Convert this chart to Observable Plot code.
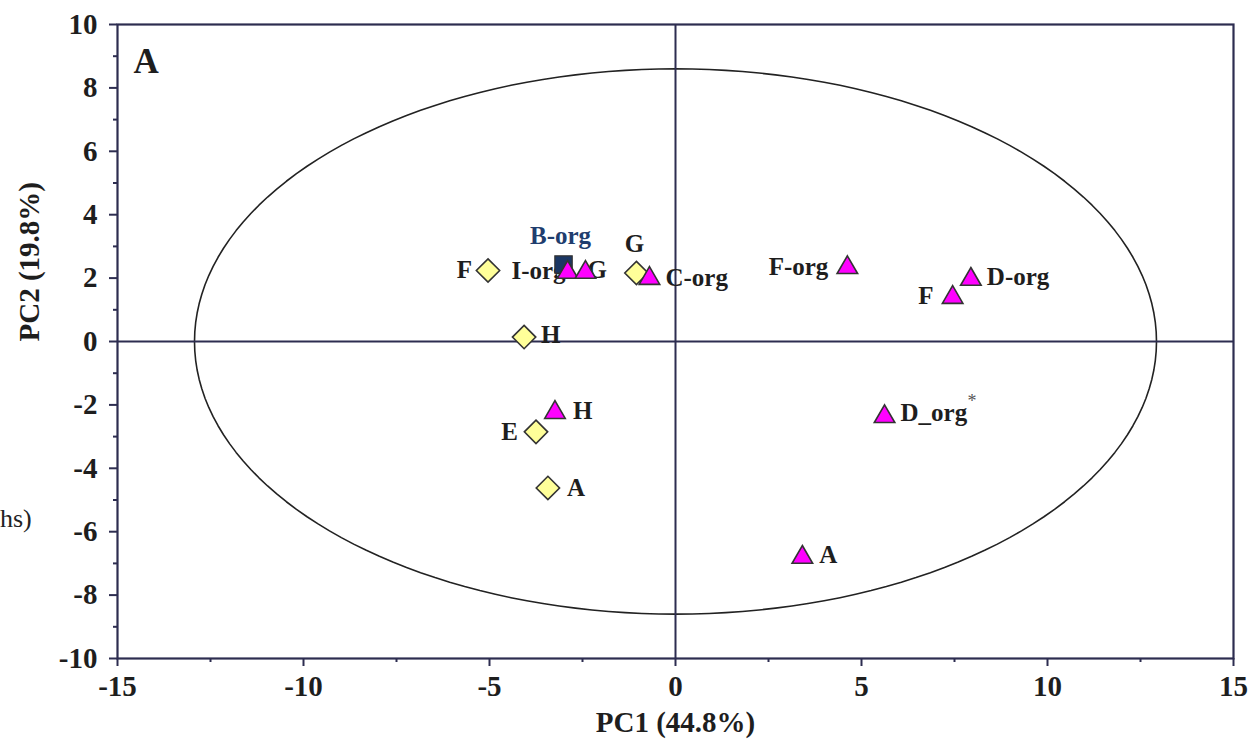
<!DOCTYPE html>
<html><head><meta charset="utf-8">
<script src="https://cdn.jsdelivr.net/npm/d3@7"></script>
<script src="https://cdn.jsdelivr.net/npm/@observablehq/plot@0.6"></script>
<style>
body{margin:0;background:#fff;}
#wrap{position:relative;width:1250px;height:745px;overflow:hidden;background:#fff;}
#stray{position:absolute;left:0px;top:504px;font:26px "Liberation Serif",serif;color:#222;}
svg text{font-family:"Liberation Serif","Times New Roman",serif;}
</style></head><body><div id="wrap"><div id="chart"></div><div id="stray">hs)</div></div>
<script>
// ---- data ----
const diamondLabels = ["F", "H", "E", "A", "G"];
const diamondPC1 = [-5.04, -4.07, -3.75, -3.43, -1.05];
const diamondPC2 = [2.24, 0.14, -2.85, -4.62, 2.16];

const squareLabels = ["B-org"];
const squarePC1 = [-3.01];
const squarePC2 = [2.43];

const triangleLabels = ["I-org", "G", "C-org", "F-org", "D-org", "F", "D_org", "H", "A"];
const trianglePC1 = [-2.90, -2.42, -0.70, 4.62, 7.94, 7.45, 5.62, -3.24, 3.41];
const trianglePC2 = [2.18, 2.18, 1.99, 2.33, 1.96, 1.39, -2.37, -2.24, -6.81];

const xTicks = [-15, -10, -5, 0, 5, 10, 15];
const xMinorTicks = [-12.5, -7.5, -2.5, 2.5, 7.5, 12.5];
const yTicks = [-10, -8, -6, -4, -2, 0, 2, 4, 6, 8, 10];
const yMinorTicks = [-9, -7, -5, -3, -1, 1, 3, 5, 7, 9];

const ellipseRadiusPC1 = 12.93;
const ellipseRadiusPC2 = 8.6;

// ---- layout (label placement: anchor, dx, dy) ----
const diamondPlace = [["end", -16, 0], ["start", 17, -2], ["end", -18, 0], ["start", 19, 0], ["middle", -2, -29]];
const squarePlace = [["middle", -3, -28]];
const trianglePlace = [["end", -2, -1], ["start", 2, -2], ["start", 16, 0], ["end", -19, -1], ["start", 16, -2], ["end", -19, -1], ["start", 16, -4], ["start", 18, -2], ["start", 17, -2]];

const navy = "#2d2d50";
const font = "'Liberation Serif', 'Times New Roman', serif";

const mk = (labels, xs, ys) => labels.map((l, i) => ({label: l, x: xs[i], y: ys[i]}));
const diamonds = mk(diamondLabels, diamondPC1, diamondPC2);
const squares = mk(squareLabels, squarePC1, squarePC2);
const triangles = mk(triangleLabels, trianglePC1, trianglePC2);

const ellipse = d3.range(0, 361, 2).map(a => ({
  x: ellipseRadiusPC1 * Math.cos(a * Math.PI / 180),
  y: ellipseRadiusPC2 * Math.sin(a * Math.PI / 180)
}));

const labelMarks = [];
function addLabels(data, place, fill) {
  data.forEach((d, i) => {
    const [anchor, dx, dy] = place[i];
    labelMarks.push(Plot.text([d], {x: "x", y: "y", text: "label", textAnchor: anchor, dx, dy,
      fontSize: 25, fontWeight: "bold", fill}));
  });
}
addLabels(diamonds, diamondPlace, "#1e1e1e");
addLabels(squares, squarePlace, "#1f3d6e");
addLabels(triangles, trianglePlace, "#1e1e1e");
// superscript asterisk on D_org
const dorg = triangles[6];
labelMarks.push(Plot.text([dorg], {x: "x", y: "y", text: () => "*", textAnchor: "start", dx: 83, dy: -15, fontSize: 18, fill: "#555"}));

const chart = Plot.plot({
  width: 1250,
  height: 745,
  marginLeft: 117,
  marginRight: 17,
  marginTop: 24,
  marginBottom: 87,
  style: {fontFamily: font, background: "#fff", color: "#1e1e1e"},
  x: {domain: [-15, 15], label: null},
  y: {domain: [-10, 10], label: null},
  marks: [
    Plot.line(ellipse, {x: "x", y: "y", stroke: "#222", strokeWidth: 1.6, curve: "linear-closed"}),
    Plot.ruleX([0], {stroke: navy, strokeWidth: 2}),
    Plot.ruleY([0], {stroke: navy, strokeWidth: 2}),
    Plot.frame({stroke: navy, strokeWidth: 2.2}),
    Plot.axisX(xTicks, {tickSize: 8, tickPadding: 9, fontSize: 29, fontWeight: "bold", stroke: navy, strokeWidth: 2, fill: "#1e1e1e", label: null, tickFormat: d => String(d)}),
    Plot.axisX(xMinorTicks, {tickSize: 4, stroke: navy, strokeWidth: 2, tickFormat: () => "", label: null}),
    Plot.axisY(yTicks, {tickSize: 8, tickPadding: 12, fontSize: 29, fontWeight: "bold", stroke: navy, strokeWidth: 2, fill: "#1e1e1e", label: null, tickFormat: d => String(d)}),
    Plot.axisY(yMinorTicks, {tickSize: 4, stroke: navy, strokeWidth: 2, tickFormat: () => "", label: null}),
    ...labelMarks,
    Plot.dot(diamonds, {x: "x", y: "y", symbol: "diamond2", r: 10.5, fill: "#ffff99", stroke: "#333", strokeWidth: 1.6}),
    Plot.dot(squares, {x: "x", y: "y", symbol: "square", r: 9.8, fill: "#1b3764", stroke: "#333", strokeWidth: 1.2}),
    Plot.dot(triangles, {x: "x", y: "y", symbol: "triangle2", r: 9.8, fill: "#ff00ff", stroke: "#333", strokeWidth: 1.6}),
    Plot.text(["PC1 (44.8%)"], {frameAnchor: "bottom", dy: 73, fontSize: 29, fontWeight: "bold", fill: "#1e1e1e"}),
    Plot.text(["PC2 (19.8%)"], {frameAnchor: "left", dx: -88, rotate: -90, fontSize: 29, fontWeight: "bold", fill: "#1e1e1e"}),
    Plot.text(["A"], {frameAnchor: "top-left", dx: 16, dy: 24, textAnchor: "start", fontSize: 35, fontWeight: "bold", fill: "#1e1e1e"})
  ]
});
document.getElementById("chart").appendChild(chart);
</script>
</body></html>
